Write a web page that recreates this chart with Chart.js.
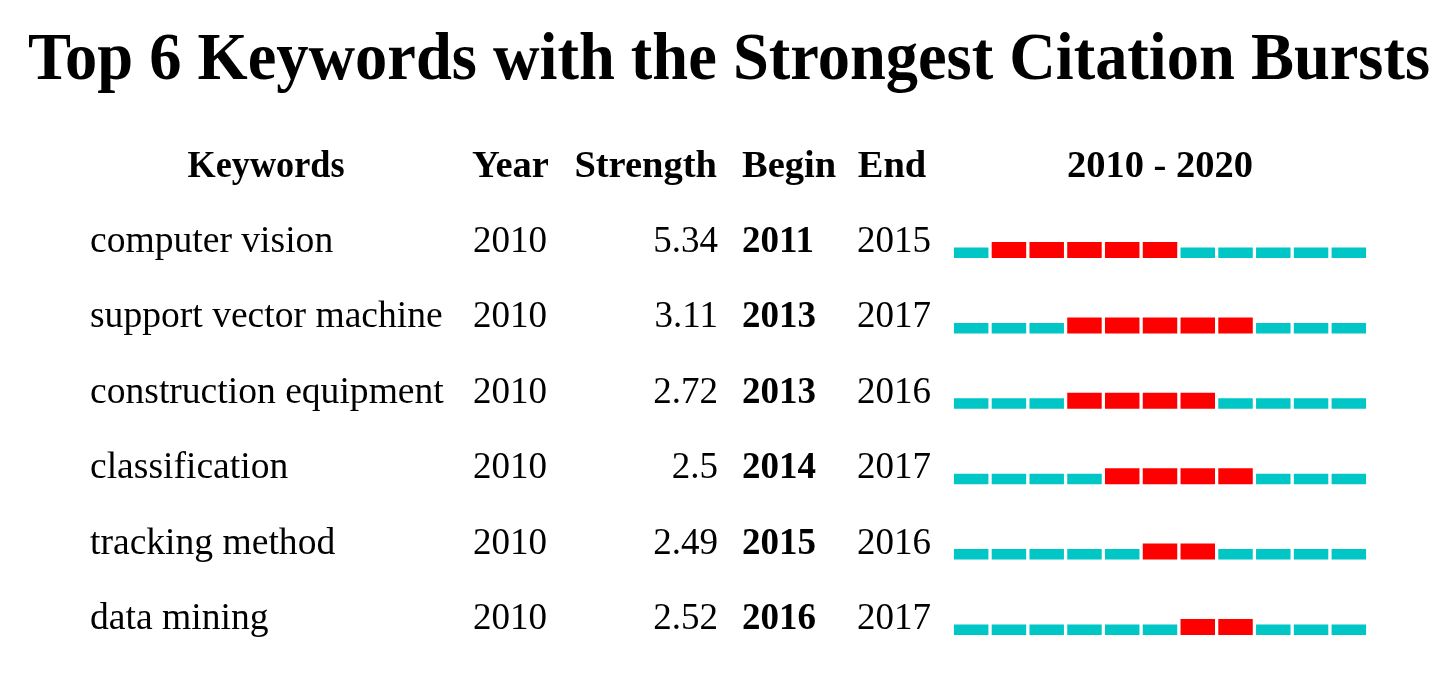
<!DOCTYPE html>
<html>
<head>
<meta charset="utf-8">
<title>Top 6 Keywords with the Strongest Citation Bursts</title>
<script src="https://cdn.jsdelivr.net/npm/chart.js@4.4.1/dist/chart.umd.min.js"></script>
<style>
  html, body { margin: 0; padding: 0; background: #fff; }
  canvas { display: block; }
</style>
</head>
<body>
<canvas id="burst" width="1451" height="674"></canvas>
<script>
// data
const keywords = ['computer vision', 'support vector machine', 'construction equipment', 'classification', 'tracking method', 'data mining']
const firstYear = [2010, 2010, 2010, 2010, 2010, 2010]
const strength = [5.34, 3.11, 2.72, 2.5, 2.49, 2.52]
const burstBegin = [2011, 2013, 2013, 2014, 2015, 2016]
const burstEnd = [2015, 2017, 2016, 2017, 2016, 2017]
const years = [2010, 2011, 2012, 2013, 2014, 2015, 2016, 2017, 2018, 2019, 2020]

const RED = '#ff0000'
const CYAN = '#00c6c6'
const RED_H = 0.212   // bar thickness in row units
const CYAN_H = 0.139
const SERIF = '"Liberation Serif", "Times New Roman", serif'

const inBurst = (i, y) => y >= burstBegin[i] && y <= burstEnd[i]

// one dataset per keyword, floating bars sitting on the row baseline
const datasets = keywords.map((k, i) => ({
    label: k,
    data: years.map(y => [i + 1 - (inBurst(i, y) ? RED_H : CYAN_H), i + 1]),
    backgroundColor: years.map(y => inBurst(i, y) ? RED : CYAN),
    borderWidth: 0,
    borderSkipped: false,
    grouped: false,
    categoryPercentage: 1,
    barPercentage: 0.913
}))

const tableText = {
    id: 'tableText',
    afterDraw(chart) {
        const ctx = chart.ctx
        const yScale = chart.scales.y
        const area = chart.chartArea
        ctx.save()
        ctx.fillStyle = '#000'
        ctx.textBaseline = 'alphabetic'

        // title
        ctx.font = 'bold 68px ' + SERIF
        ctx.textAlign = 'center'
        ctx.fillText('Top 6 Keywords with the Strongest Citation Bursts', 729, 79, 1402)

        // header row
        const hy = yScale.getPixelForValue(0) - 6
        ctx.font = 'bold 38.5px ' + SERIF
        ctx.textAlign = 'center'
        ctx.fillText('Keywords', 266, hy, 157)
        ctx.textAlign = 'left'
        ctx.fillText('Year', 472, hy)
        ctx.textAlign = 'right'
        ctx.fillText('Strength', 717, hy)
        ctx.textAlign = 'left'
        ctx.fillText('Begin', 742, hy)
        ctx.textAlign = 'center'
        ctx.fillText('End', 892, hy)
        ctx.fillText(years[0] + ' - ' + years[years.length - 1], (area.left + area.right) / 2, hy)

        // rows
        keywords.forEach((k, i) => {
            const y = yScale.getPixelForValue(i + 1) - 6
            ctx.font = '37.6px ' + SERIF
            ctx.textAlign = 'left'
            ctx.fillText(k, 90, y)
            ctx.font = '37px ' + SERIF
            ctx.fillText(String(firstYear[i]), 473, y)
            ctx.textAlign = 'right'
            ctx.fillText(String(strength[i]), 718, y)
            ctx.font = 'bold 37px ' + SERIF
            ctx.textAlign = 'left'
            ctx.fillText(String(burstBegin[i]), 742, y)
            ctx.font = '37px ' + SERIF
            ctx.textAlign = 'center'
            ctx.fillText(String(burstEnd[i]), 894, y)
        })
        ctx.restore()
    }
}

new Chart(document.getElementById('burst').getContext('2d'), {
    type: 'bar',
    data: {
        labels: years.map(String),
        datasets: datasets
    },
    options: {
        responsive: false,
        animation: false,
        layout: {
            padding: { left: 952.3, right: 83.3, top: 182.6, bottom: 16.4 }
        },
        scales: {
            x: { display: false },
            y: { display: false, reverse: true, min: 0, max: 6.3 }
        },
        plugins: {
            legend: { display: false },
            tooltip: { enabled: false }
        }
    },
    plugins: [tableText]
})
</script>
</body>
</html>
